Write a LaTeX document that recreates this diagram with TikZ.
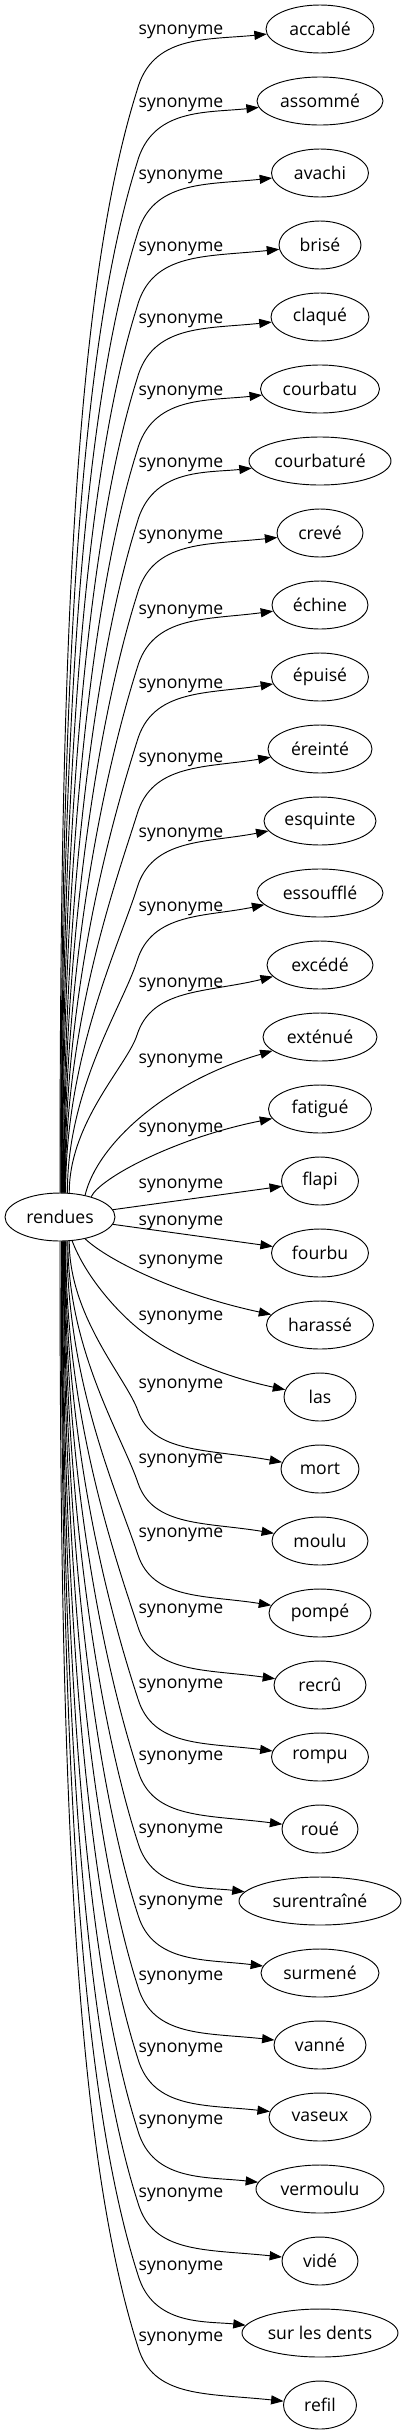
\documentclass[tikz,border=0pt]{standalone}
\usepackage{fontspec}
\setmainfont{Open Sans}
\usetikzlibrary{shapes.geometric,arrows.meta}
\tikzset{
  tnode/.style={draw, ellipse, inner sep=0pt, minimum height=36pt, line width=0.7pt, font=\fontsize{13.2}{16}\selectfont},
  lbl/.style={inner sep=0pt, font=\fontsize{13.2}{16}\selectfont},
  edge/.style={line width=0.7pt, -{Triangle[length=9.3pt,width=6.8pt]}}
}
\newcommand\TN[4]{\node[tnode, minimum width=#3*0.75pt] (#1) at (320,#2) {#4};}
\newcommand\TopEdge[4]{%
  \pgfmathsetmacro\qqS{sqrt(1-(#3/55)^2)}%
  \pgfmathtruncatemacro\qqAng{atan2(24*\qqS,#3)}%
  \pgfmathsetmacro\qqSx{60+#3}%
  \pgfmathsetmacro\qqSy{1217-24*\qqS}%
  \pgfmathsetmacro\qqKy{#2+60+0.5*#4}%
  \pgfmathsetmacro\qqH{\qqSy-\qqKy}%
  \pgfmathsetmacro\qqAy{\qqSy-0.45*\qqH}%
  \pgfmathsetmacro\qqBx{137-0.06*\qqH}%
  \pgfmathsetmacro\qqBy{\qqKy+0.19*\qqH}%
  \pgfmathsetmacro\qqCy{#2+3+#4}%
  \pgfmathsetmacro\qqDy{#2+8+#4}%
  \draw[edge] (rendues.\qqAng) .. controls (\qqSx,\qqAy) and (\qqBx,\qqBy) .. (137,\qqKy) .. controls (152,\qqCy) and (206,\qqDy) .. (#1);
  \node[lbl] (l#1) at (181,#2+#4) {synonyme};
}
\newcommand\BotEdge[4]{%
  \pgfmathsetmacro\qqS{sqrt(1-(#3/55)^2)}%
  \pgfmathtruncatemacro\qqAng{-atan2(24*\qqS,#3)}%
  \pgfmathsetmacro\qqSx{60+#3}%
  \pgfmathsetmacro\qqSy{1217+24*\qqS}%
  \pgfmathsetmacro\qqKy{#2-58}%
  \pgfmathsetmacro\qqH{\qqKy-\qqSy}%
  \pgfmathsetmacro\qqAy{\qqSy+0.45*\qqH}%
  \pgfmathsetmacro\qqBx{137-0.06*\qqH}%
  \pgfmathsetmacro\qqBy{\qqKy-0.19*\qqH}%
  \pgfmathsetmacro\qqE{max(0,-(#4+66))*0.5}%
  \pgfmathsetmacro\qqCy{#2-7-\qqE}%
  \pgfmathsetmacro\qqDy{#2-12-\qqE}%
  \draw[edge] (rendues.\qqAng) .. controls (\qqSx,\qqAy) and (\qqBx,\qqBy) .. (138,\qqKy) .. controls (153,\qqCy) and (206,\qqDy) .. (#1);
  \node[lbl] (l#1) at (181,#2+#4) {synonyme};
}
\begin{document}
\begin{tikzpicture}[x=0.75pt,y=-0.75pt]
\useasboundingbox (0,0) rectangle (406,2435);
\node[tnode, minimum width=82.5pt] (rendues) at (60,1217) {rendues};
\TN{accable}{29}{108}{accablé}
\TN{assomme}{101}{126}{assommé}
\TN{avachi}{173}{97}{avachi}
\TN{brise}{245}{82}{brisé}
\TN{claque}{317}{98}{claqué}
\TN{courbatu}{389}{119}{courbatu}
\TN{courbature}{461}{142}{courbaturé}
\TN{creve}{533}{86}{crevé}
\TN{echine}{605}{96}{échine}
\TN{epuise}{677}{97}{épuisé}
\TN{ereinte}{749}{104}{éreinté}
\TN{esquinte}{821}{112}{esquinte}
\TN{essouffle}{893}{126}{essoufflé}
\TN{excede}{965}{106}{excédé}
\TN{extenue}{1037}{114}{exténué}
\TN{fatigue}{1109}{103}{fatigué}
\TN{flapi}{1181}{77}{flapi}
\TN{fourbu}{1253}{97}{fourbu}
\TN{harasse}{1325}{107}{harassé}
\TN{las}{1397}{72}{las}
\TN{mort}{1469}{78}{mort}
\TN{moulu}{1541}{96}{moulu}
\TN{pompe}{1613}{102}{pompé}
\TN{recru}{1685}{92}{recrû}
\TN{rompu}{1757}{97}{rompu}
\TN{roue}{1829}{76}{roué}
\TN{surentraine}{1901}{162}{surentraîné}
\TN{surmene}{1973}{118}{surmené}
\TN{vanne}{2045}{92}{vanné}
\TN{vaseux}{2117}{102}{vaseux}
\TN{vermoulu}{2189}{128}{vermoulu}
\TN{vide}{2261}{76}{vidé}
\TN{surlesdents}{2333}{156}{sur les dents}
\TN{refil}{2405}{73}{refil}
\TopEdge{accable}{29}{0}{3}
\TopEdge{assomme}{101}{0.5}{4}
\TopEdge{avachi}{173}{1}{4}
\TopEdge{brise}{245}{1.5}{4}
\TopEdge{claque}{317}{2}{4}
\TopEdge{courbatu}{389}{2.5}{4}
\TopEdge{courbature}{461}{3}{4}
\TopEdge{creve}{533}{3.5}{4}
\TopEdge{echine}{605}{4}{7}
\TopEdge{epuise}{677}{4.5}{9}
\TopEdge{ereinte}{749}{5}{11}
\TopEdge{esquinte}{821}{5.5}{14}
\TopEdge{essouffle}{893}{7}{16}
\TopEdge{excede}{965}{9}{20}
\draw[edge] (rendues.41) .. controls (97,1145) and (165,1082) .. (extenue);
\node[lbl] (lextenue) at (181,1061) {synonyme};
\draw[edge] (rendues.33) .. controls (100,1178) and (175,1138) .. (fatigue);
\node[lbl] (lfatigue) at (181,1130) {synonyme};
\draw[edge] (rendues) -- (flapi);
\node[lbl] (lflapi) at (181,1186) {synonyme};
\draw[edge] (rendues) -- (fourbu);
\node[lbl] (lfourbu) at (181,1223) {synonyme};
\draw[edge] (rendues.-41) .. controls (110,1262) and (180,1295) .. (harasse);
\node[lbl] (lharasse) at (181,1262) {synonyme};
\draw[edge] (rendues.-63) .. controls (85,1275) and (115,1310) .. (140,1330) .. controls (175,1358) and (230,1378) .. (las);
\node[lbl] (llas) at (181,1318) {synonyme};
\BotEdge{mort}{1469}{9}{-83}
\BotEdge{moulu}{1541}{7.5}{-80}
\BotEdge{pompe}{1613}{6.5}{-78}
\BotEdge{recru}{1685}{5.5}{-74}
\BotEdge{rompu}{1757}{5}{-71}
\BotEdge{roue}{1829}{4.5}{-71}
\BotEdge{surentraine}{1901}{4}{-70}
\BotEdge{surmene}{1973}{3.5}{-70}
\BotEdge{vanne}{2045}{3}{-67}
\BotEdge{vaseux}{2117}{2.5}{-67}
\BotEdge{vermoulu}{2189}{2}{-67}
\BotEdge{vide}{2261}{1.5}{-66}
\BotEdge{surlesdents}{2333}{1}{-65}
\BotEdge{refil}{2405}{0}{-66}
\end{tikzpicture}
\end{document}
